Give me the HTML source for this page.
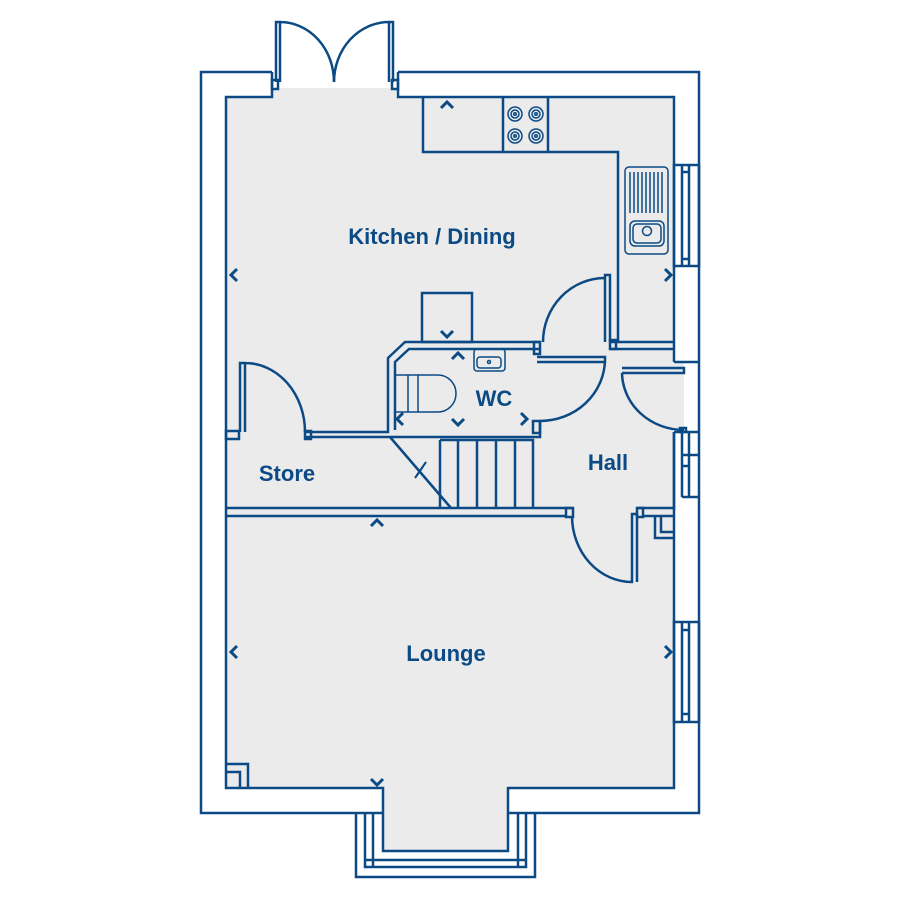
<!DOCTYPE html>
<html><head><meta charset="utf-8"><style>
html,body{margin:0;padding:0;background:#fff}
svg{display:block}
text{font-family:"Liberation Sans",sans-serif;font-weight:bold;fill:#0b4a84}
</style></head><body>
<svg width="900" height="900" viewBox="0 0 900 900" xmlns="http://www.w3.org/2000/svg">
<g fill="none" stroke="#0b4a84" stroke-width="2.5" stroke-linejoin="miter">
<path d="M226 97 H272 V88 H396 V97 H674 V362 H684 V430 H674 V788 H508 V851 H383 V788 H226 Z" fill="#ebebeb" stroke="none"/>
<path d="M272 72 H201 V813 H383"/>
<path d="M508 813 H699 V72 H398"/>
<path d="M272 72 V97 H226 V788 H383 V851 H508 V788 H674 V432"/>
<path d="M398 72 V97 H674 V362"/>
<path d="M674 362 H699 M674 432 H699"/>
<rect x="272" y="80" width="6" height="9"/>
<rect x="392" y="80" width="6" height="9"/>
<path d="M276 82 V22 H280 V82 M280 22 A54 60 0 0 1 334 82"/>
<path d="M393 82 V22 H389 V82 M389 22 A55 60 0 0 0 334 82"/>
<path d="M423 97 V152 H618 V342"/>
<path d="M503 97 V152 M548 97 V152"/>
<g stroke-width="1.5">
<circle cx="515" cy="114" r="7"/><circle cx="515" cy="114" r="4"/><circle cx="515" cy="114" r="1.3"/>
<circle cx="536" cy="114" r="7"/><circle cx="536" cy="114" r="4"/><circle cx="536" cy="114" r="1.3"/>
<circle cx="515" cy="136" r="7"/><circle cx="515" cy="136" r="4"/><circle cx="515" cy="136" r="1.3"/>
<circle cx="536" cy="136" r="7"/><circle cx="536" cy="136" r="4"/><circle cx="536" cy="136" r="1.3"/>
<rect x="625" y="167" width="43" height="87" rx="4"/>
<path d="M630 172 V213 M634 172 V213 M638 172 V213 M642 172 V213 M646 172 V213 M650 172 V213 M654 172 V213 M658 172 V213 M662 172 V213"/>
<rect x="630" y="221" width="34" height="25" rx="5"/>
<rect x="633" y="224" width="28" height="19" rx="4"/>
<circle cx="647" cy="231" r="4.5"/>
</g>
<path d="M674 165 H699 V266 H674 Z M682 165 V266 M689 165 V266 M682 172 H689 M682 259 H689"/>
<path d="M674 622 H699 V722 H674 Z M682 622 V722 M689 622 V722 M682 630 H689 M682 714 H689"/>
<path d="M674 432 V510 M682 432 V497 M689 432 V497 M682 455 H699 M682 466 H689 M682 497 H699 M689 455 V497"/>
<rect x="422" y="293" width="50" height="49"/>
<path d="M610 342 H673 M610 349 H673"/>
<rect x="610" y="340" width="6" height="9"/>
<path d="M605 342 V275 H610 V342 M605 278 A62 64 0 0 0 543 342"/>
<path d="M540 342 H405 L388 358 V432 H305"/>
<path d="M540 349 H409 L395 362 V430"/>
<path d="M305 437 H540 V421"/>
<rect x="534" y="342" width="6" height="12"/>
<path d="M537 357 H605 V362 H537 M605 360 A65 62 0 0 1 540 421"/>
<rect x="533" y="421" width="7" height="12"/>
<g stroke-width="1.5">
<rect x="474" y="349" width="31" height="22" rx="3"/>
<rect x="477" y="357" width="24" height="11" rx="3"/>
<circle cx="489" cy="362" r="1.5"/>
<path d="M396 375 H408 V412 H396 M408 375 H418 V412 H408"/>
<path d="M418 375 H438 A18 18.5 0 0 1 438 412 H418"/>
</g>
<path d="M622 368 H684 V373 H622 M622 373 A62 58 0 0 0 684 430"/>
<rect x="680" y="428" width="6" height="4"/>
<path d="M240 432 V363 H245 V432 M245 363 A60 69 0 0 1 305 432"/>
<rect x="226" y="431" width="13" height="8"/>
<rect x="305" y="431" width="6" height="8"/>
<path d="M440 440 H533 V508 M458 440 V508 M477 440 V508 M496 440 V508 M515 440 V508 M440 440 V508"/>
<path d="M390 437 L451 508"/>
<path d="M415 478 L426 462 L420 471 Z" stroke-width="2"/>
<path d="M226 508 H572 M226 516 H566"/>
<rect x="566" y="508" width="7" height="9"/>
<path d="M572 516 A60 66 0 0 0 632 582 V514 H637 V582"/>
<path d="M637 508 H673 M643 516 H673 M655 516 V538 H673 M661 516 V532 H673"/>
<rect x="637" y="508" width="6" height="9"/>
<path d="M226 764 H248 V788 M226 772 H240 V788"/>
<path d="M356 813 V877 H535 V813 M365 813 V867 H526 V813 M373 813 V860 H518 V813 M365 860 H526 M373 867 V851 M518 867 V851"/>
<g stroke-width="3">
<path d="M441 108 L447 102 L453 108"/>
<path d="M237 269 L231 275 L237 281"/>
<path d="M665 269 L671 275 L665 281"/>
<path d="M441 331 L447 337 L453 331"/>
<path d="M452 359 L458 353 L464 359"/>
<path d="M403 413 L397 419 L403 425"/>
<path d="M452 419 L458 425 L464 419"/>
<path d="M521 413 L527 419 L521 425"/>
<path d="M371 526 L377 520 L383 526"/>
<path d="M237 646 L231 652 L237 658"/>
<path d="M665 646 L671 652 L665 658"/>
<path d="M371 779 L377 785 L383 779"/>
</g>
</g>
<text x="432" y="244" font-size="22" text-anchor="middle">Kitchen / Dining</text>
<text x="494" y="406" font-size="22" text-anchor="middle">WC</text>
<text x="287" y="481" font-size="22" text-anchor="middle">Store</text>
<text x="608" y="470" font-size="22" text-anchor="middle">Hall</text>
<text x="446" y="661" font-size="22" text-anchor="middle">Lounge</text>
</svg>
</body></html>
